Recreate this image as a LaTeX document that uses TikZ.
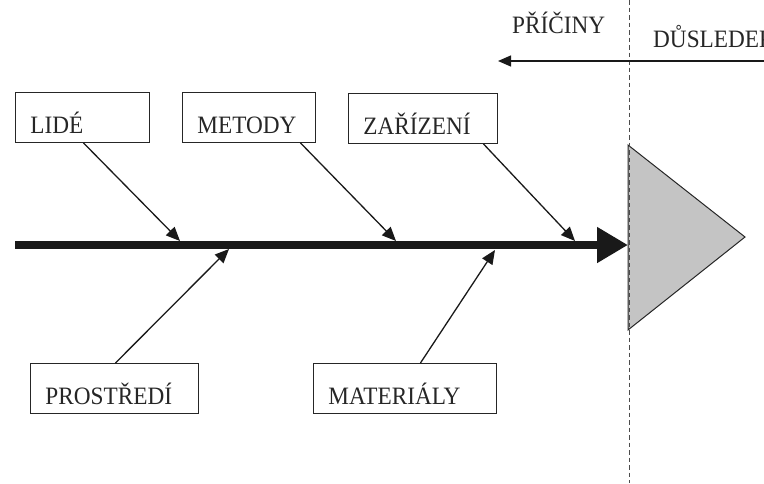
\documentclass[tikz,border=0pt]{standalone}
\usepackage{fontspec}
\setmainfont{Liberation Serif}[FakeStretch=0.93]
\usepackage{tikz}
\usetikzlibrary{positioning,calc,arrows.meta}
\tikzset{
	causebox/.style={draw=black!85, line width=0.9pt, anchor=north west, align=left,
		inner xsep=15pt, inner ysep=6pt, text height=35pt, text depth=3pt,
		text=black!85, font=\fontsize{25}{27}\selectfont},
	bone/.style={draw=black!90, line width=1.3pt, -{Triangle[length=14pt,width=12pt]}},
	spine/.style={draw=black!90, line width=8pt, -{Triangle[length=31pt,width=34pt]}},
	sidelabel/.style={anchor=base west, inner sep=0pt, text=black!85, font=\fontsize{25}{27}\selectfont}
}
\newcommand{\causebox}[5][]
{
	% box of one cause, placed by its top left corner
	\node [causebox, text width=#4] (#1) at (#2, #3) {#5};
}

\begin{document}
\begin{tikzpicture}[x=1pt, y=-1pt]
		\path[use as bounding box, clip] (0,0) rectangle (764,483);
		
		\causebox[lide]{15}{92}{104pt}{LIDÉ}
		\causebox[metody]{182}{92}{103pt}{METODY}
		\causebox[zarizeni]{348}{93}{119pt}{ZAŘÍZENÍ}
		\causebox[prostredi]{30}{363}{138pt}{PROSTŘEDÍ}
		\causebox[materialy]{313}{363}{153pt}{MATERIÁLY}
		
		\coordinate (tail) at (15,245);
		\coordinate (head) at (628,245);
		\coordinate (c1) at (180,241);
		\coordinate (c2) at (396,241);
		\coordinate (c3) at (575,241);
		\coordinate (c4) at (229,249);
		\coordinate (c5) at (495,250);
		
		\draw [spine] (tail) -- (head);
		\draw [bone] ([xshift=1pt]lide.south) -- (c1);
		\draw [bone] ([xshift=51.5pt]metody.south) -- (c2);
		\draw [bone] ([xshift=60.5pt]zarizeni.south) -- (c3);
		\draw [bone] ([xshift=1pt]prostredi.north) -- (c4);
		\draw [bone] ([xshift=15.5pt]materialy.north) -- (c5);
		
		% effect
		\coordinate (e1) at (628,145);
		\coordinate (e2) at (745,237);
		\coordinate (e3) at (628,330);
		\draw [draw=black!85, line width=1pt, fill=black!23] (e1) -- (e2) -- (e3) -- cycle;
		
		\coordinate (divtop) at (629,0);
		\coordinate (divbot) at (629,483);
		\draw [black!70, line width=0.9pt, dash pattern=on 4.5pt off 3pt] (divtop) -- (divbot);
		
		\node [sidelabel] (priciny) at (512,33) {PŘÍČINY};
		\node [sidelabel] (dusledek) at (653,47) {DŮSLEDEK};
		\coordinate (dirfrom) at (766,61);
		\coordinate (dirto) at (498,61);
		\draw [black!90, line width=1.2pt, -{Triangle[length=13pt,width=11pt]}] (dirfrom) -- (dirto);
		\end{tikzpicture}
\end{document}
